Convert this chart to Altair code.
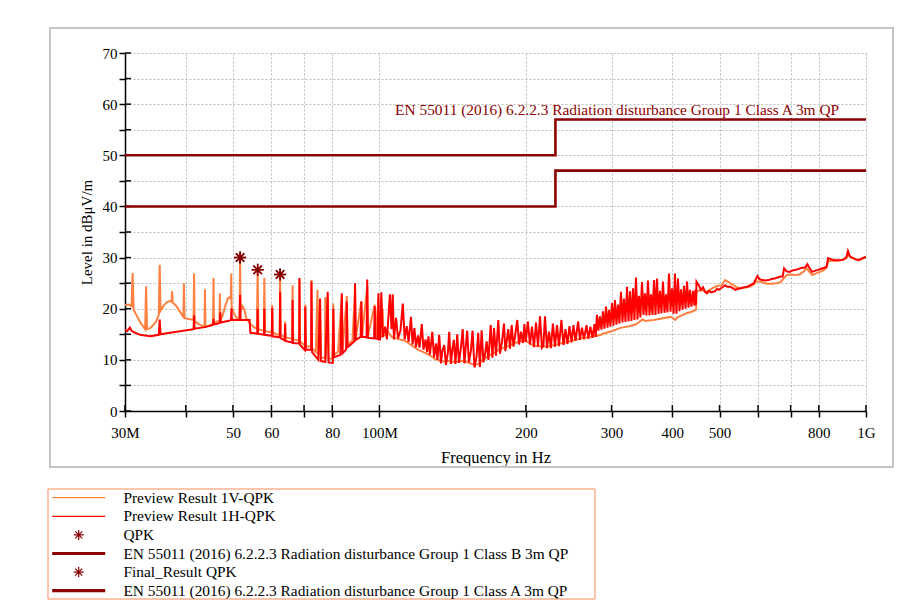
import altair as alt
import pandas as pd

# ---------------- data (frequency in MHz, level in dBµV/m) ----------------
preview_v = [
    (30.0, 20.7), (30.5, 20.8), (30.95, 20.5), (31.1, 27.0), (31.25, 19.8), (31.8, 18.4), (32.3, 17.2),
    (32.8, 16.4), (33.0, 16.0), (33.15, 24.4), (33.3, 16.0), (33.8, 16.2), (34.3, 16.8), (34.8, 17.6),
    (35.2, 18.8), (35.35, 28.6), (35.5, 19.6), (36.0, 20.6), (36.6, 21.3), (37.1, 21.5), (37.4, 21.4),
    (37.5, 23.4), (37.6, 21.2), (38.2, 20.6), (38.8, 19.6), (39.4, 18.6), (39.55, 18.4), (39.65, 25.0),
    (39.75, 18.2), (40.5, 18.0), (41.2, 17.9), (41.5, 17.8), (41.6, 26.9), (41.7, 17.6), (42.5, 17.0),
    (43.3, 16.6), (43.7, 16.5), (43.8, 23.8), (43.9, 16.5), (44.6, 16.7), (45.3, 17.0), (45.5, 17.1),
    (45.6, 26.0), (45.7, 17.2), (46.3, 17.5), (46.9, 17.6), (47.0, 23.0), (47.1, 17.8), (47.6, 18.6),
    (48.2, 20.5), (48.8, 22.0), (49.3, 22.3), (49.5, 22.0), (49.6, 26.9), (49.7, 20.2), (50.3, 19.0),
    (50.9, 18.2), (51.5, 18.0), (51.6, 18.0), (51.72, 30.0), (51.85, 19.5), (52.3, 20.5), (52.8, 19.8),
    (53.3, 18.0), (53.8, 17.5), (54.3, 17.0),
    (55.2, 16.4), (56.0, 16.1), (56.2, 27.6), (56.4, 16.0), (57.3, 15.8), (57.9, 15.7), (58.0, 26.0),
    (58.2, 15.6), (59.2, 15.5), (60.1, 15.4), (60.2, 20.7), (60.4, 15.3), (61.5, 15.0), (62.4, 14.9),
    (62.5, 26.7), (62.7, 14.8), (63.9, 14.5), (64.0, 17.5), (64.2, 14.4), (65.6, 14.2), (66.2, 14.1),
    (66.3, 24.6), (66.5, 14.0), (68.4, 13.8), (68.5, 25.5), (68.7, 13.6), (70.3, 12.8), (70.4, 20.8),
    (70.6, 12.6), (72.4, 12.6), (72.5, 25.6), (72.7, 12.3), (74.0, 11.5), (74.6, 23.7), (74.8, 11.0),
    (75.5, 21.0), (75.8, 10.5), (77.3, 10.3), (77.4, 22.3), (77.6, 10.2), (78.3, 22.0), (78.6, 10.2),
    (80.0, 10.3), (80.4, 21.0), (80.7, 11.0), (82.2, 11.6), (83.7, 22.5), (84.0, 12.0), (85.7, 22.5),
    (86.0, 13.0), (88.0, 13.8), (89.1, 23.5), (89.4, 14.2), (91.8, 21.5), (92.1, 14.6), (94.4, 24.5),
    (94.7, 14.6), (97.8, 20.8), (98.2, 14.5), (99.5, 22.0), (99.8, 14.5),
    (101.5, 14.6), (101.6, 20.0), (101.8, 14.6), (104.0, 15.5), (106.0, 14.5), (108.0, 14.2),
    (110.0, 14.0), (112.5, 13.8), (115.0, 13.2), (117.5, 12.6), (120.0, 12.0), (122.5, 11.6),
    (125.0, 11.2), (127.5, 10.8), (130.0, 10.2), (133.0, 9.8), (136.0, 9.7), (139.0, 9.8),
    (142.0, 9.6), (145.0, 9.7), (148.0, 9.8), (151.0, 9.6), (154.0, 9.3), (157.0, 9.0),
    (160.0, 9.2), (163.0, 10.0), (166.0, 10.5), (169.0, 11.0), (172.0, 11.3), (175.0, 11.8),
    (178.0, 12.2), (181.0, 12.4), (184.0, 12.7), (187.0, 13.0), (190.0, 13.3), (193.0, 13.5),
    (196.0, 13.7), (200.0, 13.8), (205.0, 13.0), (210.0, 12.7), (215.0, 12.6), (220.0, 12.6),
    (225.0, 12.7), (230.0, 12.9), (235.0, 13.2), (240.0, 13.4), (245.0, 13.6), (250.0, 13.8),
    (255.0, 14.0), (260.0, 14.2), (265.0, 14.3), (270.0, 14.4), (275.0, 14.6), (280.0, 14.7),
    (285.0, 14.9), (290.0, 15.2), (295.0, 15.4), (300.0, 15.6), (306.0, 15.9), (312.0, 16.2),
    (318.0, 16.4), (324.0, 16.5), (330.0, 16.7), (336.0, 16.9), (342.0, 17.4), (347.0, 17.9),
    (352.0, 17.6), (358.0, 17.7), (366.0, 17.8), (375.0, 18.0), (385.0, 18.2), (396.0, 18.4),
    (401.0, 18.2), (405.0, 17.8), (410.0, 18.3), (420.0, 18.8), (428.0, 19.1), (438.0, 19.4),
    (446.0, 19.7), (447.5, 19.9),
    (448.5, 23.3), (455.0, 23.6), (462.0, 23.6), (469.0, 23.3), (476.0, 23.6), (483.0, 24.0),
    (490.0, 24.3), (497.0, 24.5), (505.0, 24.6), (513.0, 25.6), (520.0, 25.3), (527.0, 24.9),
    (534.0, 24.6), (542.0, 24.2), (551.0, 24.0), (560.0, 24.1), (570.0, 24.2), (580.0, 24.4),
    (590.0, 24.9), (596.0, 25.3), (605.0, 25.3), (615.0, 25.1), (625.0, 24.9), (640.0, 24.9),
    (655.0, 25.0), (668.0, 25.2), (678.0, 26.0), (688.0, 26.6), (700.0, 26.7), (715.0, 26.6),
    (730.0, 26.7), (743.0, 27.2), (756.0, 27.9), (765.0, 27.2), (775.0, 26.6), (790.0, 26.9),
    (805.0, 27.2), (820.0, 27.6), (830.0, 28.0), (836.0, 29.3), (850.0, 29.4), (870.0, 29.4),
    (885.0, 29.5), (900.0, 29.6), (912.0, 30.0), (918.0, 31.0), (925.0, 30.2), (940.0, 29.9),
    (955.0, 29.6), (970.0, 29.5), (985.0, 29.8), (1000.0, 30.1),
]

preview_h = [
    (30.0, 15.9), (30.3, 15.6), (30.7, 16.3), (31.0, 15.6), (32.2, 14.9), (33.8, 14.6), (35.2, 14.9),
    (35.35, 17.9), (35.5, 15.0), (37.1, 15.3), (38.9, 15.6), (40.8, 15.9), (41.5, 16.0), (41.6, 18.7),
    (41.7, 16.1), (43.8, 16.4), (45.5, 16.8), (45.6, 18.0), (45.7, 16.9), (47.0, 17.2), (47.1, 19.3),
    (47.2, 17.3), (49.3, 17.7), (49.55, 17.8), (49.65, 20.1), (49.75, 17.8), (51.6, 17.8), (51.72, 22.7),
    (51.85, 17.8), (53.0, 17.8), (54.1, 17.8), (54.3, 15.3),
    (55.5, 15.2), (56.1, 15.1), (56.2, 20.0), (56.3, 15.1), (57.9, 14.9), (58.0, 20.0), (58.1, 14.9),
    (60.1, 14.7), (60.2, 20.2), (60.3, 14.6), (62.4, 14.4), (62.5, 23.3), (62.6, 14.3), (63.9, 13.8),
    (64.0, 17.0), (64.1, 13.7), (66.2, 13.4), (66.3, 21.7), (66.4, 13.3), (68.4, 13.2), (68.5, 26.0),
    (68.6, 13.0), (70.3, 11.9), (70.4, 20.4), (70.6, 12.0), (72.4, 12.0), (72.5, 25.3), (72.7, 11.5),
    (74.9, 10.0), (75.5, 22.0), (75.8, 9.8), (77.4, 9.6), (78.3, 23.3), (78.6, 9.5), (80.2, 9.4),
    (80.4, 20.0), (80.7, 10.5), (83.1, 11.0), (83.7, 23.0), (84.0, 11.3), (85.4, 12.0), (85.7, 21.4),
    (86.0, 12.5), (88.8, 13.6), (89.1, 25.0), (89.4, 13.9), (91.5, 14.5), (91.8, 21.4), (92.1, 14.5),
    (94.1, 14.4), (94.4, 25.7), (94.7, 14.3), (97.5, 14.2), (97.8, 20.5), (98.2, 14.2), (99.3, 14.1),
    (99.5, 23.0), (99.8, 14.0),
    (100.3, 14.0), (100.9, 23.2), (101.6, 14.5), (102.7, 16.5), (103.6, 14.0), (105.1, 22.8),
    (105.9, 16.0), (106.5, 22.8), (107.1, 14.0), (108.2, 18.2), (109.2, 14.2), (110.5, 15.8),
    (111.7, 21.0), (112.7, 14.0), (113.8, 16.6), (114.8, 13.5), (116.1, 18.4), (117.0, 13.0),
    (118.0, 16.2), (118.9, 12.5), (120.0, 14.8), (120.9, 12.4), (122.2, 17.0), (123.2, 12.0),
    (124.4, 14.0), (125.3, 11.5), (126.1, 14.6), (127.0, 11.0), (128.4, 15.5), (129.5, 10.5),
    (130.7, 13.2), (131.6, 10.0), (132.7, 14.9), (133.8, 9.3), (134.7, 11.8), (135.9, 12.9),
    (137.0, 9.0), (138.3, 11.5), (139.1, 15.5), (140.3, 9.2), (141.2, 12.0), (142.2, 13.9),
    (143.3, 9.2), (144.5, 15.0), (145.7, 9.4), (147.1, 12.5), (148.3, 16.0), (149.5, 9.3),
    (150.6, 13.0), (151.5, 15.7), (152.7, 9.5), (154.2, 11.8), (155.4, 15.7), (156.8, 8.5),
    (158.3, 10.5), (159.6, 15.3), (160.9, 8.6), (162.2, 15.8), (163.6, 9.5), (164.8, 11.0),
    (166.1, 13.6), (167.5, 10.0), (169.3, 16.8), (170.7, 10.4), (172.0, 16.2), (173.6, 10.8),
    (175.5, 17.8), (176.9, 11.2), (178.6, 13.5), (180.3, 17.1), (181.5, 11.7), (184.0, 16.0),
    (185.5, 12.2), (187.0, 16.8), (188.6, 12.6), (189.9, 14.5), (192.0, 17.8), (193.6, 13.0),
    (195.4, 15.5), (197.3, 13.3), (198.6, 17.0), (199.9, 13.5),
    (201.9, 17.5), (203.9, 13.0), (205.8, 16.5), (207.8, 12.5), (209.8, 17.3), (211.8, 12.6),
    (213.8, 18.5), (215.8, 12.4), (217.3, 12.8), (218.9, 18.5), (221.0, 12.3), (223.1, 15.5),
    (225.1, 12.3), (227.3, 17.1), (229.5, 12.6), (231.7, 16.8), (233.9, 12.7), (236.6, 17.8),
    (238.9, 12.9), (241.2, 16.0), (243.5, 13.1), (245.8, 16.6), (248.2, 13.4), (250.5, 16.8),
    (252.9, 13.7), (256.1, 17.5), (258.3, 13.9), (260.8, 16.3), (263.3, 14.0), (266.4, 16.8),
    (268.9, 14.1), (271.4, 16.5), (274.0, 14.3), (276.6, 17.0), (278.3, 14.5),
    (279.9, 18.8), (281.9, 15.7), (283.9, 18.5), (286.0, 15.9), (288.0, 19.5), (290.1, 16.1),
    (292.2, 20.4), (294.3, 16.3), (296.3, 19.8), (298.4, 16.5), (300.6, 21.1), (302.7, 16.7),
    (304.8, 21.7), (307.0, 16.9), (309.2, 20.8), (311.4, 17.1), (313.6, 23.3), (315.9, 17.3),
    (318.1, 22.0), (320.4, 17.4), (322.7, 24.3), (325.0, 17.5), (327.3, 23.4), (329.6, 17.6),
    (332.0, 24.0), (334.3, 17.8), (336.7, 26.1), (339.1, 17.9), (341.5, 22.5), (343.9, 18.3),
    (346.4, 25.2), (348.9, 18.8), (351.3, 23.0), (353.8, 18.7), (356.4, 25.5), (358.9, 18.7),
    (361.5, 22.8), (364.1, 18.8), (366.7, 25.6), (369.3, 18.8), (371.9, 25.9), (374.6, 19.0),
    (377.2, 23.5), (379.9, 19.1), (382.6, 25.3), (385.4, 19.2), (388.1, 22.8), (390.9, 19.3),
    (393.7, 26.9), (396.5, 19.4), (399.4, 24.0), (402.3, 19.0), (404.9, 26.9), (407.8, 19.0),
    (410.8, 25.9), (413.7, 19.5), (416.7, 23.8), (419.7, 19.8), (422.6, 24.5), (425.7, 20.0),
    (428.7, 25.3), (431.8, 20.2), (434.7, 23.7), (437.8, 20.4), (441.0, 23.5), (444.1, 20.6),
    (446.1, 23.7), (447.2, 20.8),
    (448.3, 25.3), (453.7, 24.5), (458.0, 23.7), (462.4, 24.2), (466.8, 23.3), (471.2, 23.0),
    (475.7, 23.5), (480.2, 23.2), (484.8, 23.3), (489.4, 23.4), (494.1, 23.9), (498.8, 23.7),
    (503.6, 24.0), (508.4, 24.3), (513.2, 24.6), (518.1, 24.3), (525.5, 24.3), (533.1, 24.0),
    (538.2, 23.7), (546.0, 23.9), (553.9, 24.0), (561.9, 24.2), (570.1, 24.3), (578.4, 24.6),
    (586.8, 24.9), (592.5, 25.6), (598.2, 26.4), (603.9, 25.8), (612.5, 25.6), (621.3, 25.5),
    (630.3, 25.6), (639.4, 25.8), (648.7, 25.9), (658.1, 26.1), (667.6, 26.3), (674.0, 26.3),
    (678.8, 27.9), (686.9, 27.3), (696.8, 27.2), (706.9, 27.5), (717.2, 27.6), (727.6, 27.8),
    (738.1, 28.0), (748.8, 28.0), (757.8, 28.7), (765.0, 28.0), (774.2, 27.2), (785.3, 27.4),
    (796.8, 27.6), (808.4, 27.8), (820.1, 28.0), (829.9, 28.2), (836.0, 29.9), (847.9, 29.7),
    (860.0, 29.5), (872.4, 29.5), (885.0, 29.5), (897.8, 29.6), (910.7, 30.0), (918.1, 31.3),
    (925.9, 30.3), (937.0, 30.0), (950.6, 29.7), (964.3, 29.5), (978.2, 29.8), (992.3, 30.0),
    (1000.0, 30.2),
]

limit_freq = [30, 230, 230, 1000]
class_b_level = [40, 40, 47, 47]
class_a_level = [50, 50, 57, 57]

qpk_freq = [51.72, 56.2, 62.5]
qpk_level = [30.0, 27.6, 26.7]

x_ticks = [30, 40, 50, 60, 70, 80, 100, 200, 300, 400, 500, 600, 700, 800, 1000]
y_ticks = [0, 5, 10, 15, 20, 25, 30, 35, 40, 45, 50, 55, 60, 65, 70]

series_names = [
    "Preview Result 1V-QPK",
    "Preview Result 1H-QPK",
    "QPK",
    "EN 55011 (2016) 6.2.2.3 Radiation disturbance Group 1 Class B 3m QP",
    "Final_Result QPK",
    "EN 55011 (2016) 6.2.2.3 Radiation disturbance Group 1 Class A 3m QP",
]
series_colors = ["#FF8040", "#FF0000", "#8B0000", "#8B0000", "#8B0000", "#8B0000"]

annotation_text = "EN 55011 (2016) 6.2.2.3 Radiation disturbance Group 1 Class A 3m QP"

# ---------------- tables ----------------
def pairs_df(pairs, name):
    df = pd.DataFrame(pairs, columns=["f", "level"])
    df["series"] = name
    df["idx"] = range(len(df))
    return df

v_df = pairs_df(preview_v, series_names[0])
h_df = pairs_df(preview_h, series_names[1])
b_df = pd.DataFrame({"f": limit_freq, "level": class_b_level, "series": series_names[3], "idx": range(4)})
a_df = pd.DataFrame({"f": limit_freq, "level": class_a_level, "series": series_names[5], "idx": range(4)})
q_df = pd.DataFrame({"f": qpk_freq, "level": qpk_level, "series": series_names[2]})
fr_df = pd.DataFrame({"f": qpk_freq, "level": qpk_level, "series": series_names[4]})
ann_df = pd.DataFrame({"f": [107.7], "level": [57], "t": [annotation_text]})
xt_df = pd.DataFrame({"f": x_ticks})
yt_df = pd.DataFrame({"level": y_ticks})
one = pd.DataFrame({"k": [0]})

# ---------------- scales / axes ----------------
FONT = "Liberation Serif"
xscale = alt.Scale(type="log", domain=[30, 1000], nice=False, zero=False)
yscale = alt.Scale(domain=[0, 70], nice=False, zero=False)
xaxis = alt.Axis(
    values=x_ticks,
    labelExpr="datum.value == 30 ? '30M' : datum.value == 100 ? '100M' : datum.value == 1000 ? '1G' : "
              "(datum.value == 40 || datum.value == 70 || datum.value == 600 || datum.value == 700) ? '' : "
              "format(datum.value, 'd')",
    labelPadding=8, titlePadding=9, labelFlush=False, labelOverlap=False, titleFontSize=16.5,
)
yaxis = alt.Axis(
    values=y_ticks,
    labelExpr="datum.value % 10 == 0 ? datum.label : ''",
    labelPadding=2, titlePadding=8,
)
X = lambda: alt.X("f:Q", scale=xscale, axis=xaxis, title="Frequency in Hz")
Y = lambda: alt.Y("level:Q", scale=yscale, axis=yaxis, title="Level in dBμV/m")

SYM_LINE = "M-5.3,0L5.3,0"
SYM_THICK = "M-5.3,-0.2L5.3,-0.2M-5.3,0L5.3,0M-5.3,0.2L5.3,0.2"
SYM_STAR = "M-1,0L1,0M0,-1L0,1M-0.7,-0.7L0.7,0.7M-0.7,0.7L0.7,-0.7"
shape_range = [SYM_LINE, SYM_LINE, SYM_STAR, SYM_THICK, SYM_STAR, SYM_THICK]

cscale = alt.Scale(domain=series_names, range=series_colors)
sscale = alt.Scale(domain=series_names, range=shape_range)
leg = alt.Legend(
    title=None, orient="none", legendX=-54, legendY=437, direction="vertical",
    labelFont=FONT, labelFontSize=15.4, labelColor="black", labelLimit=0, labelOffset=37,
    symbolSize=100, symbolStrokeWidth=1.2, rowPadding=1.6, padding=0,
)
C = lambda: alt.Color("series:N", scale=cscale, legend=leg)

# ---------------- decorations ----------------
outer_top = alt.Chart(one).mark_rule(color="#A8A8A8", strokeDash=[1, 1]).encode(
    x=alt.value(-120), x2=alt.value(800), y=alt.value(-48))
outer_left = alt.Chart(one).mark_rule(color="#A8A8A8", strokeDash=[1, 1]).encode(
    x=alt.value(-120), y=alt.value(-48), y2=alt.value(425))
inner_box = alt.Chart(one).mark_rect(fillOpacity=0, stroke="#C6C6C6", strokeWidth=2).encode(
    x=alt.value(-75), x2=alt.value(768), y=alt.value(-25), y2=alt.value(414))
legend_box = alt.Chart(one).mark_rect(fillOpacity=0, stroke="#FF8C5A", strokeWidth=1).encode(
    x=alt.value(-77), x2=alt.value(470), y=alt.value(436), y2=alt.value(546))

y_inner_ticks = alt.Chart(yt_df).mark_rule(color="black", strokeWidth=1.5).encode(
    y=Y(), x=alt.value(0), x2=alt.value(6))
x_inner_ticks = alt.Chart(xt_df).mark_rule(color="black", strokeWidth=1.5).encode(
    x=X(), y=alt.value(352), y2=alt.value(358))

# ---------------- data layers ----------------
v_line = alt.Chart(v_df).mark_line(strokeWidth=2, clip=True).encode(x=X(), y=Y(), color=C(), order="idx:Q")
h_line = alt.Chart(h_df).mark_line(strokeWidth=2, clip=True).encode(x=X(), y=Y(), color=C(), order="idx:Q")
b_line = alt.Chart(b_df).mark_line(strokeWidth=2.6).encode(x=X(), y=Y(), color=C(), order="idx:Q")
a_line = alt.Chart(a_df).mark_line(strokeWidth=2.6).encode(x=X(), y=Y(), color=C(), order="idx:Q")

ann = alt.Chart(ann_df).mark_text(
    align="left", baseline="alphabetic", dy=-4, font=FONT, fontSize=15.4, color="#8B0000"
).encode(x=X(), y=Y(), text="t:N")

q_pts = alt.Chart(q_df).mark_point(filled=False, size=144, strokeWidth=1.5, opacity=1).encode(
    x=X(), y=Y(), color=C(), shape=alt.Shape("series:N", scale=sscale, legend=leg))
fr_pts = alt.Chart(fr_df).mark_point(filled=False, size=144, strokeWidth=1.5, opacity=1).encode(
    x=X(), y=Y(), color=C(), shape=alt.Shape("series:N", scale=sscale, legend=leg))
dots = alt.Chart(q_df).mark_point(filled=True, shape="circle", size=16, color="#800000", opacity=1).encode(
    x=X(), y=Y())

chart = alt.layer(
    outer_top, outer_left, inner_box, legend_box,
    y_inner_ticks, x_inner_ticks,
    v_line, h_line, b_line, a_line, ann, q_pts, fr_pts, dots,
).properties(
    width=741, height=358,
    padding={"left": 117, "top": 45, "right": 50, "bottom": 189},
    autosize=alt.AutoSizeParams(type="none"),
    background="white",
).configure_view(
    strokeWidth=0
).configure_axis(
    domainColor="black", domainWidth=1.5, tickColor="black", tickWidth=1.5, tickSize=6,
    labelFont=FONT, labelFontSize=15, labelColor="black",
    titleFont=FONT, titleFontSize=15, titleFontWeight="normal", titleColor="black",
    gridColor="#BDBDBD", gridDash=[2, 2], gridWidth=1,
)

chart.save("out.html", embed_options={"renderer": "svg", "actions": False})
